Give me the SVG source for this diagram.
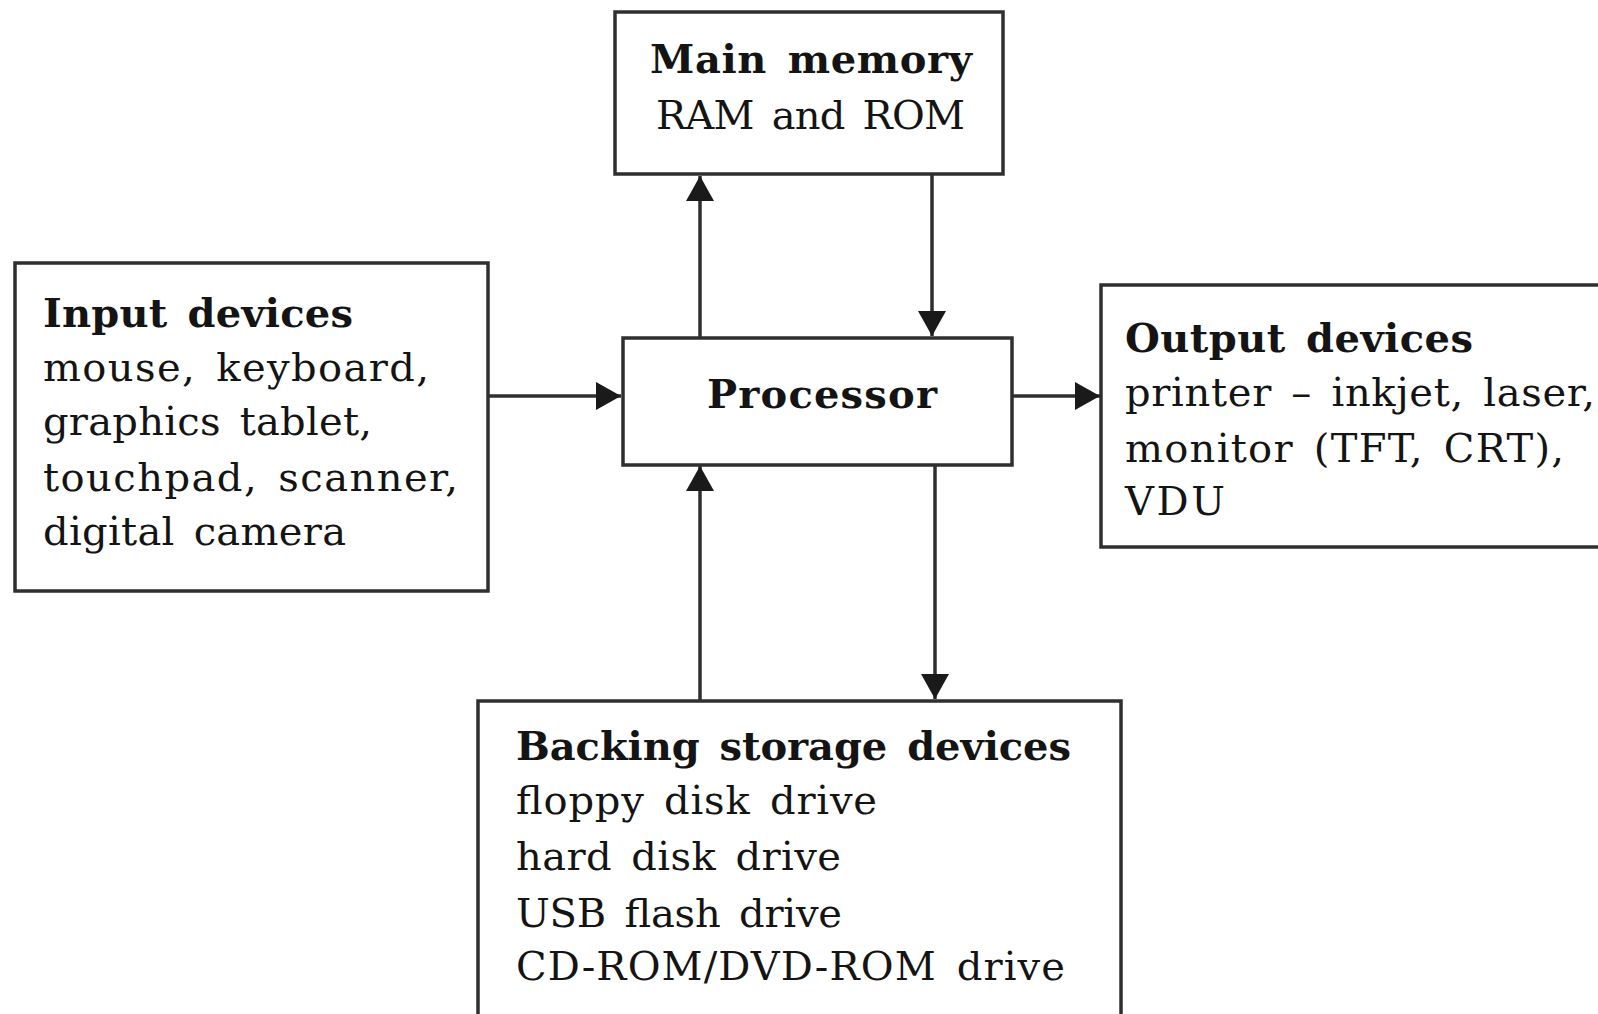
<svg xmlns="http://www.w3.org/2000/svg" width="1598" height="1014" viewBox="0 0 1598 1014">
<defs>
<style>
.box{fill:#ffffff;stroke:#2f2f2f;stroke-width:3.5}
.t{font-family:"DejaVu Serif","Liberation Serif",serif;font-size:40px;fill:#141414;word-spacing:6px}
.b{font-weight:bold}
.c{stroke:#2f2f2f;stroke-width:3.5;fill:none}
</style>
<marker id="ah" markerUnits="userSpaceOnUse" markerWidth="26" markerHeight="28" refX="25" refY="14" orient="auto">
<path d="M0,0 L25,14 L0,28 z" fill="#1a1a1a"/>
</marker>
</defs>
<rect width="1598" height="1014" fill="#ffffff"/>
<g id="connectors">
<path class="c" d="M488,396 L621,396" marker-end="url(#ah)"/>
<path class="c" d="M1012,396 L1100,396" marker-end="url(#ah)"/>
<path class="c" d="M700,338 L700,176" marker-end="url(#ah)"/>
<path class="c" d="M932,174 L932,336" marker-end="url(#ah)"/>
<path class="c" d="M700,701 L700,466" marker-end="url(#ah)"/>
<path class="c" d="M935,465 L935,699" marker-end="url(#ah)"/>
</g>
<g id="main-memory">
<rect class="box" x="615" y="12" width="388" height="162"/>
<text class="t b" x="650" y="73" textLength="322" lengthAdjust="spacing">Main memory</text>
<text class="t" x="656" y="129" textLength="309" lengthAdjust="spacing">RAM and ROM</text>
</g>
<g id="processor">
<rect class="box" x="623" y="338" width="389" height="127"/>
<text class="t b" x="707" y="408" textLength="230" lengthAdjust="spacing">Processor</text>
</g>
<g id="input-devices">
<rect class="box" x="15" y="263" width="473" height="328"/>
<text class="t b" x="43" y="327" textLength="310" lengthAdjust="spacing">Input devices</text>
<text class="t" x="43" y="381" textLength="386" lengthAdjust="spacing">mouse, keyboard,</text>
<text class="t" x="43" y="435" textLength="329" lengthAdjust="spacing">graphics tablet,</text>
<text class="t" x="43" y="491" textLength="415" lengthAdjust="spacing">touchpad, scanner,</text>
<text class="t" x="43" y="545" textLength="303" lengthAdjust="spacing">digital camera</text>
</g>
<g id="output-devices">
<rect class="box" x="1101" y="285" width="510" height="262"/>
<text class="t b" x="1125" y="352" textLength="348" lengthAdjust="spacing">Output devices</text>
<text class="t" x="1125" y="406" textLength="470" lengthAdjust="spacing">printer – inkjet, laser,</text>
<text class="t" x="1125" y="462" textLength="439" lengthAdjust="spacing">monitor (TFT, CRT),</text>
<text class="t" x="1125" y="515" textLength="100" lengthAdjust="spacing">VDU</text>
</g>
<g id="backing-storage">
<rect class="box" x="478" y="701" width="643" height="330"/>
<text class="t b" x="516" y="760" textLength="555" lengthAdjust="spacing">Backing storage devices</text>
<text class="t" x="516" y="814" textLength="361" lengthAdjust="spacing">floppy disk drive</text>
<text class="t" x="516" y="870" textLength="325" lengthAdjust="spacing">hard disk drive</text>
<text class="t" x="516" y="927" textLength="326" lengthAdjust="spacing">USB flash drive</text>
<text class="t" x="516" y="980" textLength="549" lengthAdjust="spacing">CD-ROM/DVD-ROM drive</text>
</g>
</svg>
